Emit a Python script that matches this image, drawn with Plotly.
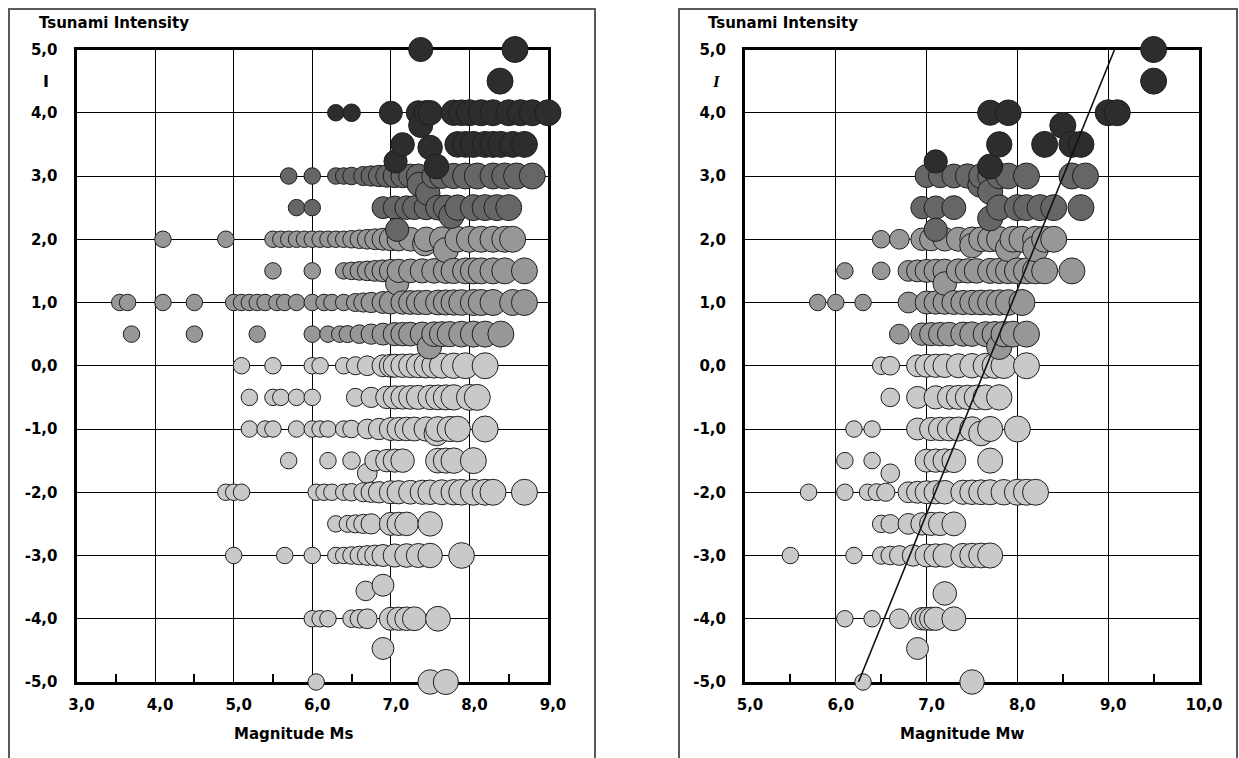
import numpy as np
import plotly.graph_objects as go

# ---------------- data: left panel (Magnitude Ms) ----------------
ms_i_5_0 = [7.38, 8.58]
ms_i_4_5 = [8.39]
ms_i_4_0 = [6.3, 6.5, 7.0, 7.35, 7.45, 7.5, 7.8, 7.9, 8.0, 8.15, 8.3, 8.5, 8.65, 8.8, 9.0]
ms_i_3_5 = [7.15, 7.85, 7.95, 8.05, 8.2, 8.3, 8.4, 8.55, 8.7]
ms_i_3_0 = [5.7, 6.0, 6.3, 6.4, 6.5, 6.65, 6.75, 6.85, 6.95, 7.05, 7.15, 7.25, 7.35, 7.55,
            7.65, 7.8, 7.95, 8.1, 8.3, 8.45, 8.6, 8.8]
ms_i_2_5 = [5.8, 6.0, 6.9, 7.05, 7.2, 7.3, 7.45, 7.6, 7.7, 7.85, 8.05, 8.2, 8.35, 8.5]
ms_i_2_0 = [4.1, 4.9, 5.5, 5.6, 5.7, 5.8, 5.9, 6.0, 6.1, 6.2, 6.3, 6.4, 6.5, 6.6, 6.7, 6.8,
            6.9, 7.0, 7.1, 7.25, 7.45, 7.65, 7.85, 8.0, 8.15, 8.3, 8.45, 8.55]
ms_i_1_5 = [5.5, 6.0, 6.4, 6.5, 6.6, 6.7, 6.8, 6.9, 7.0, 7.1, 7.25, 7.4, 7.55, 7.7, 7.8,
            7.95, 8.05, 8.15, 8.3, 8.45, 8.7]
ms_i_1_0 = [3.55, 3.65, 4.1, 4.5, 5.0, 5.1, 5.2, 5.3, 5.4, 5.55, 5.65, 5.8, 6.0, 6.15, 6.25,
            6.4, 6.55, 6.65, 6.75, 6.9, 7.0, 7.15, 7.25, 7.35, 7.45, 7.6, 7.7, 7.8, 7.9,
            8.05, 8.15, 8.3, 8.55, 8.7]
ms_i_0_5 = [3.7, 4.5, 5.3, 6.0, 6.2, 6.35, 6.45, 6.6, 6.75, 6.9, 7.05, 7.15, 7.25, 7.4,
            7.55, 7.65, 7.75, 7.9, 8.05, 8.2, 8.4]
ms_i_0_0 = [5.1, 5.5, 6.0, 6.1, 6.4, 6.55, 6.7, 6.9, 7.0, 7.05, 7.15, 7.25, 7.35, 7.45,
            7.55, 7.65, 7.8, 7.95, 8.2]
ms_i_m0_5 = [5.2, 5.5, 5.6, 5.8, 6.0, 6.55, 6.75, 6.95, 7.05, 7.15, 7.25, 7.35, 7.5, 7.6,
             7.7, 7.8, 8.0, 8.1]
ms_i_m1_0 = [5.2, 5.4, 5.5, 5.8, 6.0, 6.1, 6.2, 6.4, 6.5, 6.7, 6.85, 7.0, 7.1, 7.2, 7.3,
             7.45, 7.6, 7.75, 7.85, 8.2]
ms_i_m1_5 = [5.7, 6.2, 6.5, 6.8, 6.95, 7.05, 7.15, 7.6, 7.7, 7.8, 8.05]
ms_i_m2_0 = [4.9, 5.0, 5.1, 6.05, 6.15, 6.25, 6.4, 6.5, 6.65, 6.75, 6.85, 7.0, 7.1, 7.25,
             7.4, 7.5, 7.65, 7.8, 7.9, 8.05, 8.2, 8.3, 8.7]
ms_i_m2_5 = [6.3, 6.45, 6.55, 6.65, 6.75, 7.0, 7.1, 7.2, 7.5]
ms_i_m3_0 = [5.0, 5.65, 6.0, 6.3, 6.4, 6.5, 6.6, 6.7, 6.8, 6.9, 7.05, 7.2, 7.35, 7.5, 7.9]
ms_i_m4_0 = [6.0, 6.1, 6.2, 6.5, 6.6, 6.7, 7.0, 7.1, 7.2, 7.3, 7.6]
ms_i_m5_0 = [6.05, 7.5, 7.7]
ms_extra_m = [7.38, 7.5, 7.06, 7.58, 7.36, 7.47, 7.77, 7.08, 7.43, 7.7, 7.08, 7.49, 7.58,
              6.7, 6.68, 6.9, 6.9]
ms_extra_i = [3.8, 3.45, 3.23, 3.15, 2.87, 2.73, 2.37, 2.15, 1.93, 1.83, 1.3, 0.3, -1.07,
              -1.7, -3.56, -3.47, -4.47]

# ---------------- data: right panel (Magnitude Mw) ----------------
mw_i_5_0 = [9.5]
mw_i_4_5 = [9.5]
mw_i_4_0 = [7.7, 7.9, 9.0, 9.1]
mw_i_3_5 = [7.8, 8.3, 8.6, 8.7]
mw_i_3_0 = [7.0, 7.15, 7.3, 7.45, 7.6, 7.7, 7.8, 7.9, 8.1, 8.6, 8.75]
mw_i_2_5 = [6.95, 7.1, 7.3, 7.8, 8.0, 8.1, 8.25, 8.4, 8.7]
mw_i_2_0 = [6.5, 6.7, 6.95, 7.05, 7.2, 7.35, 7.5, 7.6, 7.7, 7.8, 7.95, 8.05, 8.2, 8.3, 8.4]
mw_i_1_5 = [6.1, 6.5, 6.8, 6.9, 7.0, 7.1, 7.2, 7.35, 7.45, 7.55, 7.7, 7.8, 7.9, 8.0, 8.1,
            8.2, 8.3, 8.6]
mw_i_1_0 = [5.8, 6.0, 6.3, 6.8, 7.0, 7.1, 7.2, 7.3, 7.4, 7.5, 7.6, 7.7, 7.8, 7.9, 8.05]
mw_i_0_5 = [6.7, 6.95, 7.05, 7.15, 7.25, 7.4, 7.5, 7.65, 7.75, 7.85, 7.95, 8.1]
mw_i_0_0 = [6.5, 6.6, 6.9, 7.0, 7.1, 7.2, 7.35, 7.5, 7.65, 7.75, 7.85, 8.1]
mw_i_m0_5 = [6.6, 6.9, 7.1, 7.25, 7.35, 7.45, 7.55, 7.65, 7.8]
mw_i_m1_0 = [6.2, 6.4, 6.9, 7.05, 7.15, 7.25, 7.35, 7.5, 7.7, 8.0]
mw_i_m1_5 = [6.1, 6.4, 7.0, 7.1, 7.2, 7.3, 7.7]
mw_i_m2_0 = [5.7, 6.1, 6.35, 6.45, 6.55, 6.8, 6.9, 7.0, 7.1, 7.2, 7.4, 7.5, 7.6, 7.7, 7.85,
             8.0, 8.1, 8.2]
mw_i_m2_5 = [6.5, 6.6, 6.8, 6.95, 7.05, 7.15, 7.3]
mw_i_m3_0 = [5.5, 6.2, 6.5, 6.6, 6.7, 6.85, 7.0, 7.1, 7.2, 7.4, 7.5, 7.6, 7.7]
mw_i_m4_0 = [6.1, 6.4, 6.7, 6.95, 7.0, 7.05, 7.1, 7.3]
mw_i_m5_0 = [6.3, 7.5]
mw_extra_m = [8.5, 7.1, 7.7, 7.59, 7.7, 7.7, 7.1, 7.5, 7.9, 8.2, 7.2, 7.8, 7.6, 6.6, 7.2, 6.9]
mw_extra_i = [3.8, 3.23, 3.15, 2.86, 2.75, 2.33, 2.15, 1.9, 1.85, 1.85, 1.3, 0.3, -1.07,
              -1.7, -3.6, -4.47]

# regression line in the Mw panel (two end points)
mw_fit_m = [6.25, 9.07]
mw_fit_i = [-5.0, 5.0]

# axis ticks
ms_tick_vals = [3, 4, 5, 6, 7, 8, 9]
ms_tick_text = ["3,0", "4,0", "5,0", "6,0", "7,0", "8,0", "9,0"]
mw_tick_vals = [5, 6, 7, 8, 9, 10]
mw_tick_text = ["5,0", "6,0", "7,0", "8,0", "9,0", "10,0"]
i_tick_vals = [5, 4, 3, 2, 1, 0, -1, -2, -3, -4, -5]
i_tick_text = ["5,0", "4,0", "3,0", "2,0", "1,0", "0,0", "-1,0", "-2,0", "-3,0", "-4,0", "-5,0"]

ms_rows = [(5.0, ms_i_5_0), (4.5, ms_i_4_5), (4.0, ms_i_4_0), (3.5, ms_i_3_5),
           (3.0, ms_i_3_0), (2.5, ms_i_2_5), (2.0, ms_i_2_0), (1.5, ms_i_1_5),
           (1.0, ms_i_1_0), (0.5, ms_i_0_5), (0.0, ms_i_0_0), (-0.5, ms_i_m0_5),
           (-1.0, ms_i_m1_0), (-1.5, ms_i_m1_5), (-2.0, ms_i_m2_0), (-2.5, ms_i_m2_5),
           (-3.0, ms_i_m3_0), (-4.0, ms_i_m4_0), (-5.0, ms_i_m5_0)]
mw_rows = [(5.0, mw_i_5_0), (4.5, mw_i_4_5), (4.0, mw_i_4_0), (3.5, mw_i_3_5),
           (3.0, mw_i_3_0), (2.5, mw_i_2_5), (2.0, mw_i_2_0), (1.5, mw_i_1_5),
           (1.0, mw_i_1_0), (0.5, mw_i_0_5), (0.0, mw_i_0_0), (-0.5, mw_i_m0_5),
           (-1.0, mw_i_m1_0), (-1.5, mw_i_m1_5), (-2.0, mw_i_m2_0), (-2.5, mw_i_m2_5),
           (-3.0, mw_i_m3_0), (-4.0, mw_i_m4_0), (-5.0, mw_i_m5_0)]

# ---------------- styling ----------------
W, H = 1239, 758
SHADES = ["#c9c9c9", "#979797", "#666666", "#2d2d2d"]  # light, gray, medium, dark
FONT = "DejaVu Sans"


def shade_class(i):
    if i >= 3.1:
        return 3
    if i >= 2.1:
        return 2
    if i >= 0.25:
        return 1
    return 0


def marker_px(m):
    return np.interp(m, [6.4, 7.0, 8.0], [16.5, 23.0, 26.0])


def collect(rows, extra_m, extra_i):
    xs, ys = [], []
    for inten, mags in rows:
        xs += list(mags)
        ys += [inten] * len(mags)
    xs += list(extra_m)
    ys += list(extra_i)
    return np.array(xs, dtype=float), np.array(ys, dtype=float)


fig = go.Figure()


def add_panel(rows, extra_m, extra_i, xa, ya):
    xs, ys = collect(rows, extra_m, extra_i)
    cls = np.array([shade_class(v) for v in ys])
    for c in range(4):
        sel = cls == c
        order = np.argsort(xs[sel], kind="stable")
        x = xs[sel][order]
        y = ys[sel][order]
        fig.add_trace(go.Scatter(
            x=x, y=y, mode="markers", xaxis=xa, yaxis=ya, cliponaxis=False,
            marker=dict(size=marker_px(x), color=SHADES[c], opacity=1,
                        line=dict(color="#1e1e1e", width=1)),
            hoverinfo="x+y", showlegend=False))


add_panel(ms_rows, ms_extra_m, ms_extra_i, "x", "y")
add_panel(mw_rows, mw_extra_m, mw_extra_i, "x2", "y2")

fig.add_trace(go.Scatter(x=mw_fit_m, y=mw_fit_i, mode="lines", xaxis="x2", yaxis="y2",
                         line=dict(color="#111111", width=1.6), showlegend=False,
                         hoverinfo="skip"))

# pixel geometry
L_X0, L_X1 = 76.5, 548.0
R_X0, R_X1 = 745.0, 1199.0
Y_TOP, Y_BOT = 49.5, 682.0


def px(x):
    return x / W


def py(y):
    return 1 - y / H


tickfont = dict(family=FONT, size=15, color="black", weight="bold")


def xaxis_cfg(x0, x1, rng, vals, text, minor0, anchor):
    return dict(domain=[px(x0), px(x1)], range=rng, anchor=anchor, automargin=False,
                tickmode="array", tickvals=vals, ticktext=text, tickfont=tickfont,
                ticks="", ticklabelstandoff=7, ticklabelshift=5,
                showgrid=True, gridcolor="black", gridwidth=1.2,
                zeroline=False, showline=True, linecolor="black", linewidth=3,
                mirror=True, layer="below traces", fixedrange=True,
                minor=dict(ticks="inside", tick0=minor0, dtick=1, ticklen=8,
                           tickwidth=1.5, tickcolor="black", showgrid=False))


def yaxis_cfg(anchor):
    return dict(domain=[py(Y_BOT), py(Y_TOP)], range=[-5, 5], anchor=anchor,
                automargin=False,
                tickmode="array", tickvals=i_tick_vals, ticktext=i_tick_text,
                tickfont=tickfont, ticks="", ticklabelstandoff=13,
                showgrid=True, gridcolor="black", gridwidth=1.2,
                zeroline=False, showline=True, linecolor="black", linewidth=3,
                mirror=True, layer="below traces", fixedrange=True)


fig.update_layout(
    width=W, height=H, margin=dict(l=0, r=0, t=0, b=0, autoexpand=False),
    paper_bgcolor="white", plot_bgcolor="white", showlegend=False,
    xaxis=xaxis_cfg(L_X0, L_X1, [3, 9], ms_tick_vals, ms_tick_text, 3.5, "y"),
    yaxis=yaxis_cfg("x"),
    xaxis2=xaxis_cfg(R_X0, R_X1, [5, 10], mw_tick_vals, mw_tick_text, 5.5, "y2"),
    yaxis2=yaxis_cfg("x2"),
)

# outer panel frames (open at the bottom, running off the picture)
frame = dict(color="#5a5a5a", width=2)
for fx0, fx1 in [(9, 595), (679, 1237)]:
    fig.add_shape(type="rect", xref="paper", yref="paper",
                  x0=px(fx0), x1=px(fx1), y0=py(H + 20), y1=py(9), line=frame,
                  layer="below")

titlefont = dict(family=FONT, size=15, color="black", weight="bold")
ann = []
for tx, mx, label in [(37, 294, "Magnitude Ms"), (706, 962, "Magnitude Mw")]:
    ann.append(dict(text="Tsunami Intensity", x=px(tx), y=py(23), xref="paper", yref="paper",
                    xanchor="left", yanchor="middle", showarrow=False, font=titlefont))
    ann.append(dict(text=label, x=px(mx), y=py(734), xref="paper", yref="paper",
                    xanchor="center", yanchor="middle", showarrow=False, font=titlefont))
ann.append(dict(text="I", x=px(46), y=py(82), xref="paper", yref="paper",
                xanchor="center", yanchor="middle", showarrow=False,
                font=dict(family=FONT, size=16, color="black", weight="bold")))
ann.append(dict(text="I", x=px(716), y=py(82), xref="paper", yref="paper",
                xanchor="center", yanchor="middle", showarrow=False,
                font=dict(family="Liberation Serif", size=17, color="black",
                          weight="bold", style="italic")))
fig.update_layout(annotations=ann)

# remove the browser's default 8px body margin so the figure sits at the page origin
fig.write_html("out.html",
               config={"displayModeBar": False},
               post_script="document.body.style.margin='0px';"
                           "document.body.style.overflow='hidden';")
